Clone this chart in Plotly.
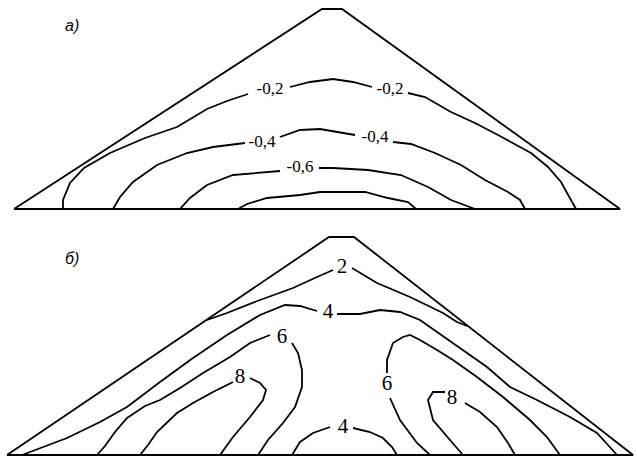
import plotly.graph_objects as go

# ---------------------------------------------------------------
# Panel а): dam cross-section, x measured from the upstream toe,
# z measured upward from the base.
# ---------------------------------------------------------------
A_OUTLINE_X = [0, 308, 328, 606, 0]
A_OUTLINE_Z = [0, 200, 200, 0, 0]

# Isolines, each split into pieces where the value labels sit
A_ISO_02_X = [[49, 49, 56, 70, 96, 131, 163, 168, 193, 213, 234],
              [276, 296, 319, 339, 358],
              [394, 411, 437, 461, 484, 517, 534, 547, 562]]
A_ISO_02_Z = [[0, 9, 26, 41, 56, 71, 82, 85, 100, 108, 115],
              [122, 127, 130, 127, 122],
              [116, 112, 97, 86, 74, 56, 42, 27, 0]]

A_ISO_04_X = [[99, 106, 119, 143, 173, 199, 231],
              [266, 286, 306, 326, 341],
              [379, 397, 421, 447, 471, 494, 506, 511]]
A_ISO_04_Z = [[0, 12, 27, 44, 56, 62, 66],
              [72, 79, 80, 77, 74],
              [67, 65, 56, 44, 29, 17, 9, 0]]

A_ISO_06_X = [[166, 176, 193, 219, 266],
              [305, 319, 354, 387, 414, 437, 461]]
A_ISO_06_Z = [[0, 11, 24, 34, 38],
              [41, 41, 39, 34, 22, 9, 0]]

A_ISO_08_X = [[224, 233, 253, 286, 306, 351, 374, 394, 402]]
A_ISO_08_Z = [[0, 5, 11, 14, 17, 17, 11, 7, 0]]

A_LABEL_TEXT = ["-0,2", "-0,2", "-0,4", "-0,4", "-0,6"]
A_LABEL_X = [256, 376, 248, 361, 286]
A_LABEL_Z = [119, 119, 66, 71, 41]

# ---------------------------------------------------------------
# Panel б)
# ---------------------------------------------------------------
B_OUTLINE_X = [0, 322, 347, 626, 0]
B_OUTLINE_Z = [0, 218, 218, 0, 0]

B_ISO_2_X = [[200, 220, 253, 286, 310, 326],
             [345, 370, 403, 436, 450, 460]]
B_ISO_2_Z = [[135, 142, 155, 167, 178, 185],
             [187, 172, 158, 142, 133, 129]]

B_ISO_4_UP_X = [[15, 60, 93, 120, 153, 186, 220, 253, 278, 293, 310],
                [330, 353, 373, 393, 413, 446, 480, 503, 530, 563, 590, 610]]
B_ISO_4_UP_Z = [[0, 17, 33, 48, 73, 97, 120, 140, 150, 149, 144],
                [141, 141, 145, 143, 135, 112, 88, 68, 55, 38, 22, 0]]

B_ISO_6_L_X = [[90, 98, 108, 120, 138, 153, 173, 196, 223, 243, 263],
               [285, 291, 295, 295, 288, 276, 261, 251]]
B_ISO_6_L_Z = [[0, 9, 23, 37, 49, 55, 67, 82, 98, 112, 120],
               [112, 102, 85, 68, 48, 32, 15, 0]]

B_ISO_8_L_X = [[133, 141, 150, 170, 186, 206, 226],
               [243, 253, 259, 256, 243, 226, 213]]
B_ISO_8_L_Z = [[0, 10, 23, 42, 52, 63, 73],
               [77, 72, 65, 55, 38, 18, 0]]

B_ISO_4_LOW_X = [[285, 293, 306, 323],
                 [346, 363, 376, 385, 390]]
B_ISO_4_LOW_Z = [[0, 13, 22, 28],
                 [27, 23, 17, 8, 0]]

B_ISO_6_R_X = [[380, 380, 386, 396, 403, 413, 430, 446, 470, 496, 523, 540, 553],
               [383, 393, 410, 423]]
B_ISO_6_R_Z = [[82, 95, 112, 118, 120, 115, 105, 95, 78, 58, 35, 18, 0],
               [57, 35, 12, 0]]

B_ISO_8_R_X = [[438, 426, 421, 426, 443, 456],
               [458, 473, 490, 501, 508]]
B_ISO_8_R_Z = [[63, 63, 55, 35, 15, 0],
               [52, 43, 28, 12, 0]]

B_LABEL_TEXT = ["2", "4", "6", "8", "4", "6", "8"]
B_LABEL_X = [335, 321, 275, 233, 336, 380, 445]
B_LABEL_Z = [187, 142, 117, 77, 27, 70, 56]

PANEL_TAGS = ["а)", "б)"]

LINE = dict(color="black", width=1.8)
SERIF = "Liberation Serif, Times New Roman, serif"
SANS = "Liberation Sans, Arial, sans-serif"

fig = go.Figure()


def add_pieces(xs_list, zs_list, xa, ya):
    for xs, zs in zip(xs_list, zs_list):
        fig.add_trace(go.Scatter(x=xs, y=zs, mode="lines", line=LINE,
                                 xaxis=xa, yaxis=ya, hoverinfo="skip",
                                 showlegend=False, cliponaxis=False))


# panel а
add_pieces([A_OUTLINE_X], [A_OUTLINE_Z], "x", "y")
for px, pz in [(A_ISO_02_X, A_ISO_02_Z), (A_ISO_04_X, A_ISO_04_Z),
               (A_ISO_06_X, A_ISO_06_Z), (A_ISO_08_X, A_ISO_08_Z)]:
    add_pieces(px, pz, "x", "y")
fig.add_trace(go.Scatter(x=A_LABEL_X, y=A_LABEL_Z, text=A_LABEL_TEXT,
                         mode="text", xaxis="x", yaxis="y",
                         textfont=dict(family=SERIF, size=17, color="black"),
                         hoverinfo="skip", showlegend=False, cliponaxis=False))

# panel б
add_pieces([B_OUTLINE_X], [B_OUTLINE_Z], "x2", "y2")
for px, pz in [(B_ISO_2_X, B_ISO_2_Z), (B_ISO_4_UP_X, B_ISO_4_UP_Z),
               (B_ISO_6_L_X, B_ISO_6_L_Z), (B_ISO_8_L_X, B_ISO_8_L_Z),
               (B_ISO_4_LOW_X, B_ISO_4_LOW_Z), (B_ISO_6_R_X, B_ISO_6_R_Z),
               (B_ISO_8_R_X, B_ISO_8_R_Z)]:
    add_pieces(px, pz, "x2", "y2")
fig.add_trace(go.Scatter(x=B_LABEL_X, y=B_LABEL_Z, text=B_LABEL_TEXT,
                         mode="text", xaxis="x2", yaxis="y2",
                         textfont=dict(family=SERIF, size=21, color="black"),
                         hoverinfo="skip", showlegend=False, cliponaxis=False))

hidden = dict(visible=False, showgrid=False, zeroline=False, fixedrange=True)

fig.update_layout(
    width=637, height=458,
    margin=dict(l=0, r=0, t=0, b=0),
    paper_bgcolor="white", plot_bgcolor="white",
    xaxis=dict(hidden, domain=[0, 1], range=[-14, 623]),
    yaxis=dict(hidden, domain=[1 - 222 / 458, 1], range=[-13, 209]),
    xaxis2=dict(hidden, domain=[0, 1], range=[-7, 630]),
    yaxis2=dict(hidden, domain=[0, 1 - 225 / 458], range=[-3, 230]),
    annotations=[
        dict(text=PANEL_TAGS[0], x=58, y=184, xref="x", yref="y",
             showarrow=False, font=dict(family=SANS, size=16,
                                        style="italic", color="black")),
        dict(text=PANEL_TAGS[1], x=65, y=197, xref="x2", yref="y2",
             showarrow=False, font=dict(family=SANS, size=16,
                                        style="italic", color="black")),
    ],
)

fig.write_html("out.html")
